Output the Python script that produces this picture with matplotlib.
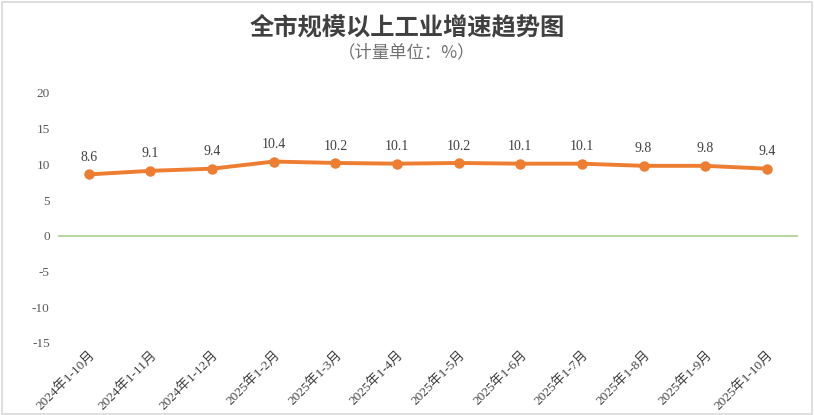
import matplotlib
matplotlib.use("Agg")
import matplotlib.pyplot as plt
from matplotlib.patches import Rectangle

categories = ["2024年1-10月", "2024年1-11月", "2024年1-12月", "2025年1-2月", "2025年1-3月",
              "2025年1-4月", "2025年1-5月", "2025年1-6月", "2025年1-7月", "2025年1-8月",
              "2025年1-9月", "2025年1-10月"]
values = [8.6, 9.1, 9.4, 10.4, 10.2, 10.1, 10.2, 10.1, 10.1, 9.8, 9.8, 9.4]
yticks = [-15, -10, -5, 0, 5, 10, 15, 20]

serif = ['Liberation Serif', 'Noto Sans CJK SC']
cjk = ['Noto Sans CJK SC', 'DejaVu Sans']

fig = plt.figure(figsize=(8.14, 4.15), dpi=100)
fig.patch.set_facecolor('white')
fig.add_artist(Rectangle((0.002, 0.003), 0.995, 0.993, transform=fig.transFigure,
                         fill=False, edgecolor='#d9d9d9', linewidth=1.2))

ax = fig.add_axes([0.0713, 0.1735, 0.9087, 0.6025])
x = list(range(len(categories)))
ax.plot(x, values, color='#ED7D31', linewidth=2.8, marker='o', markersize=6.5, zorder=3)
ax.axhline(0, color='#A9D18E', linewidth=1.2, zorder=2)

for xi, v in zip(x, values):
    ax.annotate(f"{v:g}", (xi, v), xytext=(0, 7.5), textcoords='offset points',
                ha='center', va='bottom', fontsize=10, color='#404040', family=serif)

ax.set_xlim(-0.5, len(categories) - 0.5)
ax.set_ylim(-15, 20)
ax.set_yticks(yticks)
ax.set_yticklabels([str(t) for t in yticks], family=serif, fontsize=9.5, color='#595959')
ax.set_xticks(x)
ax.set_xticklabels(categories, rotation=45, ha='right', rotation_mode='anchor',
                   family=serif, fontsize=9.5, color='#404040')
ax.tick_params(axis='both', length=0)
ax.tick_params(axis='y', pad=6)
ax.tick_params(axis='x', pad=4)
for s in ax.spines.values():
    s.set_visible(False)

fig.text(0.5, 0.935, "全市规模以上工业增速趋势图", ha='center', va='center',
         fontsize=17.5, fontweight='bold', color='#404040', family=cjk)
fig.text(0.5, 0.873, "（计量单位：%）", ha='center', va='center',
         fontsize=12.5, color='#707070', family=cjk)

fig.savefig("out.png", dpi=100)
